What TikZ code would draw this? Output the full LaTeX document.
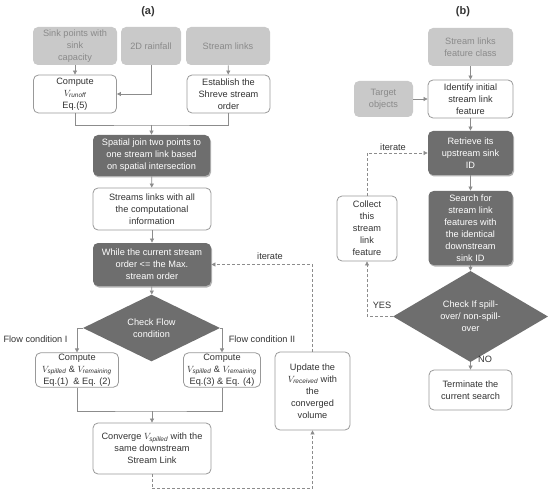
\documentclass[tikz,border=0pt]{standalone}
\usepackage{fontspec}
\setmainfont{Liberation Sans}
\usetikzlibrary{arrows.meta,shapes.geometric,shadows}
\definecolor{lightbox}{HTML}{C9C9C9}
\definecolor{lighttext}{HTML}{8A8A8A}
\definecolor{darkbox}{HTML}{6E6E6E}
\definecolor{edgegray}{HTML}{999999}
\definecolor{txt}{HTML}{333333}
\definecolor{linegray}{HTML}{8C8C8C}
\newcommand{\vv}[1]{$V_{\mathit{#1}}$}
\begin{document}
\begin{tikzpicture}[x=1bp,y=-1bp,
  every node/.style={font=\fontsize{9.2bp}{12bp}\selectfont, align=center, inner sep=1bp},
  boxbase/.style={rectangle, rounded corners=5bp, line width=0.8bp},
  inbox/.style={boxbase, fill=lightbox, draw=none, text=lighttext},
  wbox/.style={boxbase, fill=white, draw=edgegray, text=txt},
  dbox/.style={boxbase, fill=darkbox, draw=none, text=white,
     drop shadow={shadow xshift=1bp, shadow yshift=-1.5bp, opacity=0.3, fill=black}},
  dia/.style={diamond, fill=darkbox, draw=none, text=white, inner sep=0pt},
  conn/.style={draw=linegray, line width=0.7bp},
  arr/.style={conn, -{Triangle[width=4bp,length=4bp]}},
  darr/.style={arr, dashed, dash pattern=on 3bp off 2bp},
  dconn/.style={conn, dashed, dash pattern=on 3bp off 2bp},
  lbl/.style={text=txt}
]
\useasboundingbox (0,0) rectangle (550,497);

% ---------- panel (a)
\node[font=\fontsize{11bp}{13bp}\selectfont\bfseries, text=txt] (ta) at (148,12) {(a)};
\node[inbox, minimum width=84bp, minimum height=38bp] (sink) at (75,46) {Sink points with\\sink\\capacity};
\node[inbox, minimum width=60bp, minimum height=38bp] (rain) at (151,46) {2D rainfall};
\node[inbox, minimum width=84bp, minimum height=38bp] (slinks) at (228,46) {Stream links};
\node[wbox, minimum width=83bp, minimum height=38bp] (comp) at (75,94) {Compute\\\vv{runoff}\\Eq.(5)};
\node[wbox, minimum width=83bp, minimum height=38bp] (estab) at (228.5,94) {Establish the\\Shreve stream\\order};
\node[dbox, minimum width=117bp, minimum height=41bp] (spat) at (151.5,155.5) {Spatial join two points to\\one stream link based\\on spatial intersection};
\node[wbox, minimum width=118bp, minimum height=42bp] (strl) at (152,209) {Streams links with all\\the computational\\information};
\node[dbox, minimum width=118bp, minimum height=43bp] (whl) at (152,264.5) {While the current stream\\order <= the Max.\\stream order};
\node[dia, minimum width=137bp, minimum height=58bp] (chk) at (151.5,328) {Check Flow\\condition};
\node[wbox, minimum width=83bp, minimum height=34bp] (c1) at (77,370) {Compute\\\vv{spilled} \& \vv{remaining}\\Eq.(1)~ \& Eq. (2)};
\node[wbox, minimum width=77bp, minimum height=34bp] (c2) at (222,370) {Compute\\\vv{spilled} \& \vv{remaining}\\Eq.(3) \& Eq. (4)};
\node[wbox, minimum width=118bp, minimum height=51bp] (conv) at (152,448.5) {Converge \vv{spilled} with the\\same downstream\\Stream Link};
\node[wbox, minimum width=75bp, minimum height=78bp] (upd) at (312.5,391) {Update the\\\vv{received} with\\the\\converged\\volume};

\node[lbl] (fc1) at (35.5,339) {Flow condition I};
\node[lbl] (fc2) at (262,339) {Flow condition II};
\node[lbl] (it1) at (270,256) {iterate};

\coordinate (m1) at (151.5,125);
\coordinate (m2) at (152,411);
\coordinate (d1) at (152,488);

\draw[arr] (sink) -- (comp);
\draw[arr] (slinks) -- (estab);
\draw[arr] (rain.south) |- (comp.east);
\draw[conn] (comp.south) |- (m1) -| (estab.south);
\draw[arr] (m1) -- (spat.north);
\draw[arr] (spat) -- (strl);
\draw[arr] (strl) -- (whl);
\draw[arr] (whl) -- (chk);
\draw[arr] (chk.west) -| (c1.north);
\draw[arr] (chk.east) -| (c2.north);
\draw[conn] (c1.south) |- (m2) -| (c2.south);
\draw[arr] (m2) -- (conv.north);
\draw[dconn] (conv.south) |- (d1);
\draw[darr] (d1) -| (upd.south);
\draw[darr] (upd.north) |- (whl.east);

% ---------- panel (b)
\node[font=\fontsize{11bp}{13bp}\selectfont\bfseries, text=txt] (tb) at (463,12) {(b)};
\node[inbox, minimum width=85bp, minimum height=38bp] (sfc) at (470.5,47) {Stream links\\feature class};
\node[wbox, minimum width=85bp, minimum height=38bp] (iden) at (470.5,99) {Identify initial\\stream link\\feature};
\node[inbox, minimum width=59bp, minimum height=36bp] (targ) at (383.5,99) {Target\\objects};
\node[dbox, minimum width=85bp, minimum height=44bp] (retr) at (470.5,153) {Retrieve its\\upstream sink\\ID};
\node[dbox, minimum width=84bp, minimum height=74bp] (srch) at (470.5,228) {Search for\\stream link\\features with\\the identical\\downstream\\sink ID};
\node[wbox, minimum width=60bp, minimum height=65bp] (coll) at (367,228.5) {Collect\\this\\stream\\link\\feature};
\node[dia, minimum width=155bp, minimum height=73bp] (chk2) at (470.5,316.5) {Check If spill-\\over/ non-spill-\\over};
\node[wbox, minimum width=83bp, minimum height=40bp] (term) at (470.5,390) {Terminate the\\current search};

\node[lbl] (yes) at (382,305) {YES};
\node[lbl] (no) at (485,359) {NO};
\node[lbl] (it2) at (393,147) {iterate};

\draw[arr] (sfc) -- (iden);
\draw[arr] (targ) -- (iden);
\draw[arr] (iden) -- (retr);
\draw[arr] (retr) -- (srch);
\draw[arr] (srch) -- (chk2);
\draw[arr] (chk2) -- (term);
\draw[darr] (chk2.west) -| (coll.south);
\draw[darr] (coll.north) |- (retr.west);
\end{tikzpicture}
\end{document}
